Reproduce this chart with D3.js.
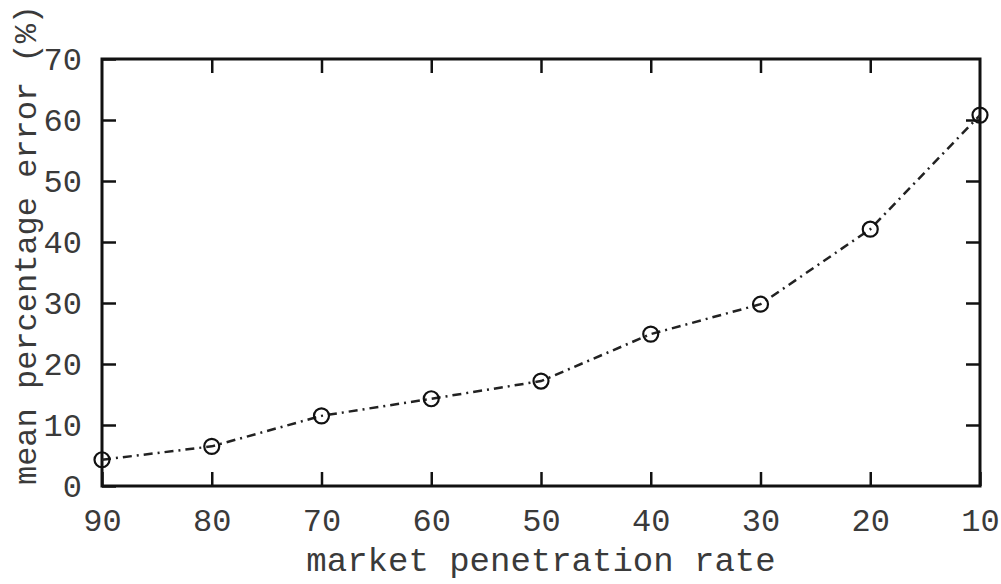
<!DOCTYPE html>
<html>
<head>
<meta charset="utf-8">
<script src="https://cdn.jsdelivr.net/npm/d3@7"></script>
<style>
  body { margin: 0; background: #fff; }
  text { font-family: "Liberation Mono", "DejaVu Sans Mono", monospace; fill: #3a3a3a; }
</style>
</head>
<body>
<svg id="canvas" width="1001" height="584"></svg>
<script>
// values
let penetration = [90, 80, 70, 60, 50, 40, 30, 20, 10]
let meanError = [4.3, 6.5, 11.5, 14.3, 17.2, 24.9, 29.8, 42.1, 60.8]
let xTicks = [90, 80, 70, 60, 50, 40, 30, 20, 10]
let yTicks = [0, 10, 20, 30, 40, 50, 60, 70]

let canvas = d3.select('#canvas')

let margin = {top: 59, left: 102, right: 21, bottom: 98}
let width = 1001 - margin.left - margin.right
let height = 584 - margin.top - margin.bottom

let x = d3.scaleLinear().domain([90, 10]).range([0, width])
let y = d3.scaleLinear().domain([0, 70]).range([height, 0])

let g = canvas.append('g')
    .attr('transform', 'translate(' + margin.left + ',' + margin.top + ')')

// ticks pointing in, mirrored on top and right
function styleAxis(sel) {
    sel.select('.domain').remove()
    sel.selectAll('line').attr('stroke', '#111').attr('stroke-width', 2.5)
    sel.selectAll('text').style('font-size', '32px').attr('fill', '#3a3a3a')
}

g.append('g')
    .attr('transform', 'translate(0,' + height + ')')
    .call(d3.axisBottom(x).tickValues(xTicks).tickSizeInner(-14).tickPadding(22))
    .call(styleAxis)

g.append('g')
    .call(d3.axisLeft(y).tickValues(yTicks).tickSizeInner(-14).tickPadding(20))
    .call(styleAxis)

g.append('g')
    .call(d3.axisTop(x).tickValues(xTicks.slice(1, -1)).tickSizeInner(-14).tickFormat(''))
    .call(styleAxis)

g.append('g')
    .attr('transform', 'translate(' + width + ',0)')
    .call(d3.axisRight(y).tickValues(yTicks.slice(1, -1)).tickSizeInner(-14).tickFormat(''))
    .call(styleAxis)

g.append('rect')
    .attr('width', width)
    .attr('height', height)
    .attr('fill', 'none')
    .attr('stroke', '#111')
    .attr('stroke-width', 3)

let points = penetration.map((p, i) => ({p: p, e: meanError[i]}))

let line = d3.line()
    .x(d => x(d.p))
    .y(d => y(d.e))

g.append('path')
    .datum(points)
    .attr('d', line)
    .attr('fill', 'none')
    .attr('stroke', '#222')
    .attr('stroke-width', 2.5)
    .attr('stroke-dasharray', '9,5,2,5')

g.selectAll('circle')
    .data(points)
    .enter()
    .append('circle')
    .attr('cx', d => x(d.p))
    .attr('cy', d => y(d.e))
    .attr('r', 7.5)
    .attr('fill', 'none')
    .attr('stroke', '#111')
    .attr('stroke-width', 2.2)

canvas.append('text')
    .attr('x', margin.left + width / 2)
    .attr('y', 571)
    .attr('text-anchor', 'middle')
    .style('font-size', '34px')
    .text('market penetration rate')

canvas.append('text')
    .attr('transform', 'translate(36,245) rotate(-90)')
    .attr('text-anchor', 'middle')
    .style('font-size', '32px')
    .text('mean percentage error (%)')
</script>
</body>
</html>
